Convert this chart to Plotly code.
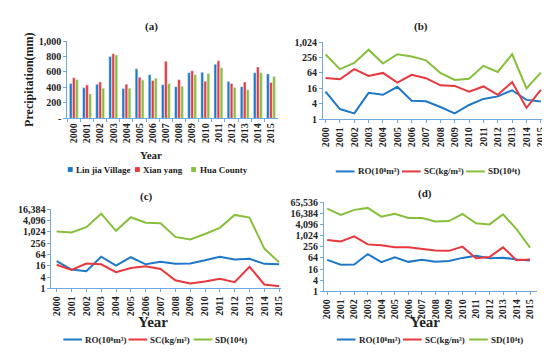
import plotly.graph_objects as go

years = [str(y) for y in range(2000, 2016)]

# Panel (a) precipitation (mm)
lin_jia = [450, 395, 440, 800, 385, 640, 565, 435, 410, 590, 595, 700, 475, 410, 590, 575]
xian_yang = [525, 430, 470, 835, 440, 530, 490, 740, 500, 615, 480, 745, 450, 470, 665, 465]
hua_county = [500, 315, 390, 820, 390, 495, 520, 450, 415, 565, 580, 655, 400, 370, 590, 540]

# Panel (b)
b_ro = [12, 2.5, 1.7, 10.7, 9, 18.4, 5.3, 5, 3, 1.7, 3.6, 6.2, 7.8, 13.5, 5.7, 4.9]
b_sc = [41, 36, 90, 49, 64, 27, 54, 40, 21, 20, 12, 19, 9, 28, 2.8, 14]
b_sd = [332, 90, 157, 512, 148, 342, 279, 197, 64, 34, 38, 121, 70, 342, 16, 66]

# Panel (c)
c_ro = [28, 10, 8.2, 48, 16, 45, 19, 26, 20, 21, 31, 48, 34, 37, 20, 19]
c_sc = [18, 9.6, 21, 19, 7.2, 12, 15, 10.8, 2.7, 1.8, 2.3, 3.2, 2.1, 14, 1.6, 1.3]
c_sd = [1070, 945, 1790, 9400, 1150, 6080, 3100, 2870, 543, 396, 776, 1650, 8030, 5800, 130, 24]

# Panel (d)
d_ro = [50, 27, 28, 103, 38, 69, 39, 50, 39, 44, 64, 84, 61, 66, 52, 46]
d_sc = [605, 496, 944, 345, 306, 239, 239, 195, 160, 154, 260, 61, 72, 239, 48, 52]
d_sd = [30000, 13500, 25700, 32800, 11000, 15800, 9400, 9400, 6000, 6300, 15300, 4800, 4200, 14600, 2300, 230]

bar_names = ["Lin jia Village", "Xian yang", "Hua County"]
line_names = ["RO(10⁸m³)", "SC(kg/m³)", "SD(10⁴t)"]

a_ticks = [0, 200, 400, 600, 800, 1000]
a_ticktext = ["-", "200", "400", "600", "800", "1,000"]
log_ticks = [1, 4, 16, 64, 256, 1024, 4096, 16384, 65536]
log_ticktext = ["{:,}".format(v) for v in log_ticks]

BLUE = "#1f77c8"
RED = "#e8383d"
GREEN = "#86bf3c"
COLORS = [BLUE, RED, GREEN]
AXC = "#6fa8dc"
FONT = "Liberation Serif"
TXT = "#222"
W, H = 550, 352

fig = go.Figure()

for name, vals, col in zip(bar_names, [lin_jia, xian_yang, hua_county], COLORS):
    fig.add_trace(go.Bar(x=years, y=vals, name=name, marker_color=col, xaxis="x", yaxis="y", showlegend=False))

def add_lines(series, ax):
    for name, vals, col in zip(line_names, series, COLORS):
        fig.add_trace(go.Scatter(x=years, y=vals, name=name, mode="lines", line=dict(color=col, width=2),
                                 xaxis="x" + ax, yaxis="y" + ax, showlegend=False))

add_lines([b_ro, b_sc, b_sd], "2")
add_lines([c_ro, c_sc, c_sd], "3")
add_lines([d_ro, d_sc, d_sd], "4")

def px(x0, x1):
    return [x0 / W, x1 / W]

def py(top, bottom):
    return [1 - bottom / H, 1 - top / H]

tickfont = dict(family=FONT, size=10, color=TXT, weight="bold")
xbase = dict(type="category", showline=True, linecolor=AXC, linewidth=1, ticks="outside", ticklen=3,
             tickcolor=AXC, tickangle=-90, tickfont=tickfont, showgrid=False, zeroline=False,
             tickmode="array", tickvals=years, ticktext=years)
ybase = dict(showline=True, linecolor=AXC, linewidth=1, ticks="outside", ticklen=3, tickcolor=AXC,
             tickfont=tickfont, showgrid=False, zeroline=False)

lay = dict(
    width=W, height=H, margin=dict(l=0, r=0, t=0, b=0),
    paper_bgcolor="white", plot_bgcolor="white",
    font=dict(family=FONT, color=TXT),
    showlegend=False,
    barmode="group", bargap=0.3, bargroupgap=0.12,
    xaxis=dict(xbase, domain=px(57, 270), anchor="y", range=[-0.5, 15.5], tickson="boundaries"),
    yaxis=dict(ybase, domain=py(28, 108), anchor="x", range=[0, 1000], tickvals=a_ticks, ticktext=a_ticktext,
               title=dict(text="<b>Precipitation(mm)</b>", font=dict(family=FONT, size=12, color=TXT), standoff=2)),
    xaxis2=dict(xbase, domain=px(316, 540), anchor="y2", range=[-0.18, 15.23]),
    yaxis2=dict(ybase, domain=py(29, 109), anchor="x2", type="log", range=[0, 3.0103],
                tickvals=log_ticks[:6], ticktext=log_ticktext[:6]),
    xaxis3=dict(xbase, domain=px(41, 273), anchor="y3", range=[-0.35, 15.09]),
    yaxis3=dict(ybase, domain=py(202, 284), anchor="x3", type="log", range=[0, 4.2144],
                tickvals=log_ticks[:8], ticktext=log_ticktext[:8]),
    xaxis4=dict(xbase, domain=px(317, 533), anchor="y4", range=[-0.24, 15.53]),
    yaxis4=dict(ybase, domain=py(195, 287), anchor="x4", type="log", range=[0, 4.8165],
                tickvals=log_ticks, ticktext=log_ticktext),
)
fig.update_layout(**lay)

def ann(text, x, y, size, xanchor="center", bold=True):
    fig.add_annotation(text=("<b>%s</b>" % text) if bold else text, x=x / W, y=1 - y / H,
                       xref="paper", yref="paper", showarrow=False,
                       xanchor=xanchor, yanchor="middle", font=dict(family=FONT, size=size, color=TXT))

for t, x, y, s in [("(a)", 142, 13, 11), ("(b)", 415, 13, 11), ("(c)", 137, 189, 11), ("(d)", 419, 186, 11),
                   ("Year", 142, 146, 11), ("Year", 144, 319, 15), ("Year", 419, 319, 15)]:
    ann(t, x, y, s)

# Legend for (a): square keys
for name, col, x in zip(bar_names, COLORS, [60, 128, 185]):
    y = 161
    fig.add_shape(type="rect", xref="paper", yref="paper", x0=(x - 2.5) / W, x1=(x + 2.5) / W,
                  y0=1 - (y + 2.5) / H, y1=1 - (y - 2.5) / H, fillcolor=col, line=dict(width=0))
    ann(name, x + 4, y, 9, xanchor="left")

# Legends for line panels: short line keys
def line_legend(xs, y):
    for name, col, x in zip(line_names, COLORS, xs):
        fig.add_shape(type="line", xref="paper", yref="paper", x0=x / W, x1=(x + 19) / W,
                      y0=1 - y / H, y1=1 - y / H, line=dict(color=col, width=2))
        ann(name, x + 20, y, 9, xanchor="left")

line_legend([329, 396, 461], 163)
line_legend([53, 119, 185], 337)
line_legend([330, 397, 464], 337)

fig.write_html("out.html")
